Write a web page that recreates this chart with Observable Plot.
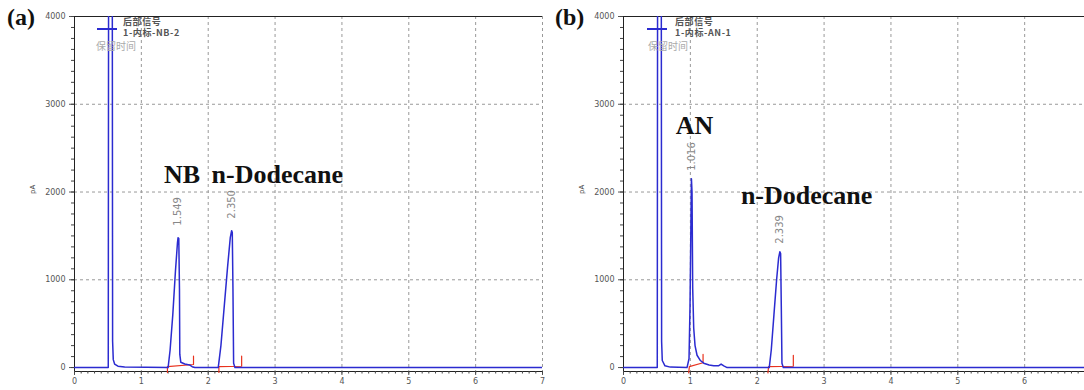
<!DOCTYPE html>
<html><head><meta charset="utf-8">
<script src="https://cdn.jsdelivr.net/npm/d3@7"></script>
<script src="https://cdn.jsdelivr.net/npm/@observablehq/plot@0.6"></script>
<style>
body{margin:0;background:#fff;}
#wrap{position:relative;width:1084px;height:390px;overflow:hidden;background:#fff;}
.panel{position:absolute;top:0;}
.plabel{position:absolute;font-family:"Liberation Serif","Times New Roman",serif;font-weight:bold;font-size:24px;top:4px;color:#111;}
.leg{position:absolute;font-family:"Noto Sans CJK SC",sans-serif;font-size:9px;font-weight:bold;color:#555;line-height:10px;height:10px;letter-spacing:0.6px;white-space:nowrap;}
.legline{position:absolute;height:2px;background:#2b2bd0;}
.rt{position:absolute;font-family:"Noto Sans CJK SC",sans-serif;font-size:10px;color:#aaa;line-height:11px;white-space:nowrap;}
</style></head><body><div id="wrap"></div>
<script>
// ---- Panel (a): NB + n-Dodecane ----
const timeA   = [0, 0.505, 0.51, 0.565, 0.57, 0.58, 0.60, 0.65, 0.75, 1.40, 1.43, 1.47, 1.51, 1.54, 1.549, 1.56, 1.57, 1.575, 1.59, 1.65, 1.72, 1.76, 1.80, 2.15, 2.19, 2.24, 2.29, 2.33, 2.35, 2.36, 2.37, 2.38, 2.40, 7];
const signalA = [0, 0, 4600, 4600, 300, 90, 40, 15, 5, 0, 200, 600, 1100, 1420, 1480, 1470, 900, 150, 60, 40, 30, 10, 0, 0, 250, 700, 1150, 1480, 1560, 1540, 900, 50, 0, 0];
const integTimeA   = [1.39, 1.39, 1.78, 1.78, 2.16, 2.16, 2.50, 2.50];
const integSignalA = [-55, 10, 35, 130, -55, 10, 15, 130];
const integGroupA  = ["p1", "p1", "p1", "p1", "p2", "p2", "p2", "p2"];
const peakTimeA   = [1.549, 2.350];
const peakHeightA = [1480, 1560];
const peakLabelA  = ["1.549", "2.350"];
const nameA       = ["NB", "n-Dodecane"];
const legendA     = ["后部信号", "1-内标-NB-2"];

// ---- Panel (b): AN + n-Dodecane ----
const timeB   = [0, 0.505, 0.51, 0.565, 0.57, 0.58, 0.62, 0.70, 0.95, 0.98, 0.995, 1.005, 1.016, 1.025, 1.035, 1.05, 1.07, 1.10, 1.15, 1.20, 1.28, 1.35, 1.42, 1.46, 1.50, 1.55, 2.18, 2.21, 2.25, 2.29, 2.32, 2.339, 2.35, 2.36, 2.37, 2.39, 6.9];
const signalB = [0, 0, 4600, 4600, 300, 80, 20, 5, 0, 100, 700, 1400, 2150, 2000, 900, 450, 250, 140, 80, 50, 30, 20, 20, 40, 20, 0, 0, 200, 600, 1000, 1250, 1320, 1300, 700, 50, 0, 0];
const integTimeB   = [0.975, 0.985, 1.19, 1.19, 2.16, 2.17, 2.54, 2.54];
const integSignalB = [-60, 10, 55, 150, -60, 10, 15, 140];
const integGroupB  = ["p1", "p1", "p1", "p1", "p2", "p2", "p2", "p2"];
const peakTimeB   = [1.016, 2.339];
const peakHeightB = [2150, 1320];
const peakLabelB  = ["1.016", "2.339"];
const nameB       = ["AN", "n-Dodecane"];
const legendB     = ["后部信号", "1-内标-AN-1"];

// ---- axes ----
const yMajor = [0, 1000, 2000, 3000, 4000];
const yGridVals = [1000, 2000, 3000];
const yMinor = d3.range(0, 4001, 125);
const xMajorA = [0, 1, 2, 3, 4, 5, 6, 7];
const xMajorB = [0, 1, 2, 3, 4, 5, 6];
const yMin = -45, yMax = 4000;

function panel(o) {
  const trace = o.t.map((t, i) => ({t, v: o.v[i]}));
  const integ = o.it.map((t, i) => ({t, v: o.iv[i], g: o.ig[i]}));
  const peaks = o.pt.map((t, i) => ({t, v: o.ph[i], lab: o.pl[i], name: o.nm[i]}));
  const xMinor = d3.range(0, Math.floor(o.xmax * 10) + 1).map(d => d / 10);
  const serif = "Liberation Serif, Times New Roman, serif";
  return Plot.plot({
    width: o.width, height: 390,
    marginLeft: o.ml, marginRight: o.mr, marginTop: 16, marginBottom: 19,
    x: {domain: [0, o.xmax], axis: null},
    y: {domain: [yMin, yMax], axis: null},
    style: {fontFamily: "DejaVu Sans, sans-serif", background: "transparent", overflow: "visible"},
    marks: [
      Plot.gridX(o.xgrid, {stroke: "#999", strokeOpacity: 1, strokeDasharray: "3,3"}),
      Plot.gridY(yGridVals, {stroke: "#999", strokeOpacity: 1, strokeDasharray: "3,3"}),
      Plot.ruleY([yMax], {stroke: "#222", strokeWidth: 1.2}),
      Plot.ruleY([yMin], {stroke: "#222"}),
      Plot.ruleX([0], {stroke: "#222"}),
      Plot.axisY(yMajor, {tickSize: 5, tickPadding: 4, fontSize: 8, color: "#555", tickFormat: d => String(d), label: null}),
      Plot.axisY(yMinor, {tickSize: 3, tickFormat: () => "", color: "#444", label: null}),
      Plot.axisX(o.xmaj, {tickSize: 4, tickPadding: 3, fontSize: 8, color: "#555", tickFormat: d => String(d), label: null}),
      Plot.axisX(xMinor, {tickSize: 2.5, tickFormat: () => "", color: "#444", label: null}),
      Plot.text(["pA"], {text: d => d, frameAnchor: "left", dx: -42, rotate: -90, fontSize: 7, fill: "#444"}),
      Plot.line(integ, {x: "t", y: "v", z: "g", stroke: "#e8321e", strokeWidth: 1.2}),
      Plot.line(trace, {x: "t", y: "v", stroke: "#2b2bd0", strokeWidth: 1.5, clip: true}),
      Plot.text(peaks, {x: "t", y: "v", text: "lab", rotate: -90, textAnchor: "start", dy: o.labDy, fontSize: 10, fill: "#888"}),
      Plot.text(peaks.slice(0, 1), {x: "t", y: "v", text: "name", textAnchor: "middle", lineAnchor: "bottom", dx: o.n1[0], dy: o.n1[1], fontSize: 26, fontWeight: "bold", fontFamily: serif, fill: "#111"}),
      Plot.text(peaks.slice(1, 2), {x: "t", y: "v", text: "name", textAnchor: "start", lineAnchor: "bottom", dx: o.n2[0], dy: o.n2[1], fontSize: 26, fontWeight: "bold", fontFamily: serif, fill: "#111"})
    ]
  });
}

const wrap = document.getElementById("wrap");
function place(node, left, width) {
  const d = document.createElement("div");
  d.className = "panel"; d.style.left = left + "px"; d.style.width = width + "px";
  d.appendChild(node); wrap.appendChild(d);
}
place(panel({t: timeA, v: signalA, it: integTimeA, iv: integSignalA, ig: integGroupA, pt: peakTimeA, ph: peakHeightA, pl: peakLabelA, nm: nameA,
  width: 544, ml: 74, mr: 2, xmax: 7, xgrid: [1, 2, 3, 4, 5, 6, 7], xmaj: xMajorA, labDy: -12, n1: [4, -55], n2: [-20, -48]}), 0, 544);
place(panel({t: timeB, v: signalB, it: integTimeB, iv: integSignalB, ig: integGroupB, pt: peakTimeB, ph: peakHeightB, pl: peakLabelB, nm: nameB,
  width: 542, ml: 81, mr: 0, xmax: 6.895, xgrid: [1, 2, 3, 4, 5, 6], xmaj: xMajorB, labDy: -8, n1: [3, -45], n2: [-39, -48]}), 542, 542);

function overlay(cls, text, left, top, extra) {
  const d = document.createElement("div");
  d.className = cls; d.textContent = text; d.style.left = left + "px"; d.style.top = top + "px";
  if (extra) Object.assign(d.style, extra);
  wrap.appendChild(d);
}
overlay("plabel", "(a)", 7, 4);
overlay("plabel", "(b)", 555, 4);
overlay("legline", "", 97, 28, {width: "20px"});
overlay("leg", legendA[0], 123, 17);
overlay("leg", legendA[1], 123, 28);
overlay("rt", "保留时间", 96, 40);
overlay("legline", "", 647, 28, {width: "20px"});
overlay("leg", legendB[0], 675, 17);
overlay("leg", legendB[1], 675, 28);
overlay("rt", "保留时间", 648, 40);
</script></body></html>
